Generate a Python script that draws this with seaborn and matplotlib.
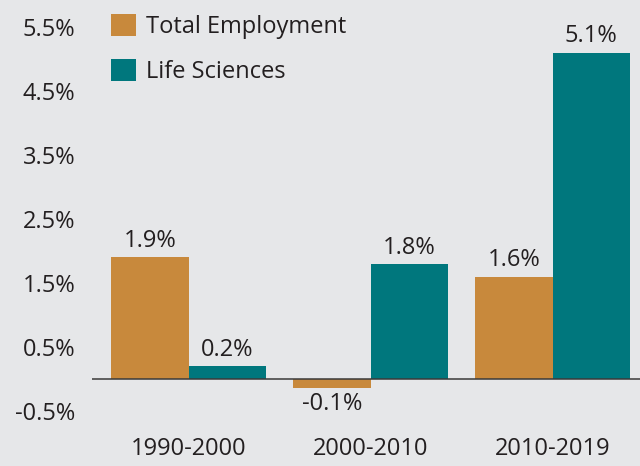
import numpy as np
import pandas as pd
import seaborn as sns
from matplotlib import pyplot as plt

periods = ["1990-2000", "2000-2010", "2010-2019"]
total_employment = [1.9, -0.14, 1.6]
life_sciences = [0.2, 1.8, 5.1]
series_names = ["Total Employment", "Life Sciences"]
y_ticks = [-0.5, 0.5, 1.5, 2.5, 3.5, 4.5, 5.5]

bg = "#e6e7e9"
colors = ["#c8893c", "#00777d"]
fs = 17

df = pd.DataFrame({
    "period": periods * 2,
    "growth": total_employment + life_sciences,
    "series": [series_names[0]] * 3 + [series_names[1]] * 3,
})

sns.set_style("white")
plt.rcParams["font.family"] = ["Open Sans", "DejaVu Sans"]

fig = plt.figure(figsize=(6.4, 4.66), dpi=100, facecolor=bg)
ax = fig.add_axes([0.144, 0.077, 0.856, 0.923])
ax.set_facecolor(bg)

sns.barplot(data=df, x="period", y="growth", hue="series", palette=colors,
            width=0.85, saturation=1, linewidth=0, edgecolor="none", ax=ax)

# labels above (or below) each bar
for container in ax.containers:
    ax.bar_label(container, labels=[f"{v:.1f}%" for v in container.datavalues],
                 padding=3, fontsize=fs, color="#231f20")

ax.axhline(0, color="#3a3a3a", lw=1.1)

ax.set_xlim(-0.53, 2.48)
ax.set_ylim(-0.797, 5.92)
ax.set_yticks(y_ticks)
ax.set_yticklabels([f"{t}%" for t in y_ticks])
ax.tick_params(axis="y", length=0, pad=12, labelsize=fs, labelcolor="#231f20")
ax.tick_params(axis="x", length=0, pad=5, labelsize=fs, labelcolor="#231f20")
ax.set_xlabel("")
ax.set_ylabel("")
sns.despine(ax=ax, left=True, bottom=True)

leg = ax.legend(loc="upper left", bbox_to_anchor=(0.018, 0.99), frameon=False,
                fontsize=fs, handlelength=1.05, handleheight=1.05,
                handletextpad=0.4, labelspacing=0.85, borderaxespad=0)
for t in leg.get_texts():
    t.set_color("#231f20")

fig.savefig("out.png", dpi=100, facecolor=bg)
